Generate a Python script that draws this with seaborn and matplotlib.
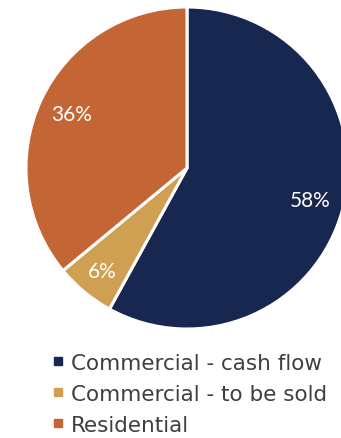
import matplotlib
matplotlib.use("Agg")
import matplotlib.pyplot as plt
from matplotlib.lines import Line2D
import seaborn as sns

categories = ["Commercial - cash flow", "Commercial - to be sold", "Residential"]
shares = [58, 6, 36]
colors = ["#18274F", "#CFA052", "#C46535"]

sns.set_theme(style="white")
plt.rcParams["font.family"] = ["DejaVu Sans"]
palette = sns.color_palette(colors)

W, H = 341, 439
fig = plt.figure(figsize=(W / 100, H / 100), dpi=100)

cx, cy, r = 187, 169, 161
ax = fig.add_axes([(cx - r) / W, (H - cy - r) / H, 2 * r / W, 2 * r / H])
wedges, texts, autotexts = ax.pie(
    shares,
    colors=palette,
    startangle=90,
    counterclock=False,
    autopct=lambda p: f"{p:.0f}%",
    pctdistance=0.79,
    wedgeprops=dict(edgecolor="white", linewidth=2.2),
    textprops=dict(color="white", fontsize=15, family="Lato"),
    radius=1.0,
)
# the small slice's label sits a little further out
x, y = autotexts[1].get_position()
autotexts[1].set_position((x * 1.05, y * 1.05))
for w in wedges:
    w.set_clip_on(False)
ax.set_xlim(-1, 1)
ax.set_ylim(-1, 1)
ax.set_aspect("equal")
ax.axis("off")

handles = [
    Line2D([], [], marker="s", linestyle="none", markersize=6,
           markerfacecolor=c, markeredgecolor=c)
    for c in palette
]
fig.legend(
    handles, categories,
    loc="upper left",
    bbox_to_anchor=(53 / W, 1 - 354 / H),
    frameon=False,
    fontsize=15.5,
    labelcolor="#3F3F3F",
    handlelength=0.5,
    handletextpad=0.35,
    labelspacing=0.5,
    borderpad=0,
    borderaxespad=0,
)

fig.savefig("out.png", dpi=100)
